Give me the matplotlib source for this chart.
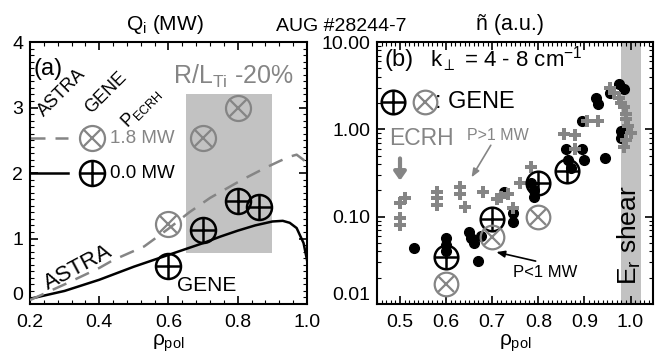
import matplotlib
matplotlib.use('Agg')

import numpy as np
import matplotlib.pyplot as plt
from matplotlib.patches import Rectangle
from matplotlib.ticker import MultipleLocator, FixedLocator, NullFormatter

plt.rcParams['font.family'] = ['Liberation Sans', 'DejaVu Sans']
plt.rcParams['mathtext.fontset'] = 'custom'
plt.rcParams['mathtext.rm'] = 'Liberation Sans'
plt.rcParams['mathtext.it'] = 'Liberation Sans'
plt.rcParams['mathtext.sf'] = 'Liberation Sans'

GRAY = '#858585'
LGRAY = '#c2c2c2'

# ---- panel (a): ion heat flux ----
rho_astra_0 = [0.2, 0.3, 0.4, 0.5, 0.6, 0.65, 0.7, 0.75, 0.8, 0.85, 0.9, 0.93, 0.95, 0.97, 0.99, 1.0]
q_astra_0 = [0.08, 0.2, 0.37, 0.57, 0.75, 0.84, 0.93, 1.03, 1.12, 1.2, 1.26, 1.27, 1.24, 1.16, 0.93, 0.67]
rho_astra_18 = [0.2, 0.3, 0.4, 0.44, 0.53, 0.6, 0.66, 0.72, 0.81, 0.88, 0.92, 0.95, 0.97, 0.99, 1.0]
q_astra_18 = [0.06, 0.3, 0.55, 0.67, 0.88, 1.15, 1.40, 1.62, 1.89, 2.08, 2.18, 2.25, 2.28, 2.2, 2.12]
rho_gene_0 = [0.6, 0.7, 0.8, 0.86]
q_gene_0 = [0.58, 1.13, 1.57, 1.48]
rho_gene_18 = [0.6, 0.7, 0.8]
q_gene_18 = [1.22, 2.53, 3.0]

# ---- panel (b): density fluctuations ----
rho_hi = [0.50, 0.50, 0.50, 0.51, 0.58, 0.58, 0.58, 0.63, 0.63, 0.64, 0.68, 0.71,
          0.72, 0.735, 0.745, 0.76, 0.785, 0.855, 0.88, 0.88, 0.905, 0.93,
          0.955, 0.965, 0.975, 0.98, 0.985, 0.99, 0.99, 0.995, 1.0, 0.99, 0.985]
n_hi = [0.145, 0.097, 0.081, 0.165, 0.19, 0.165, 0.137, 0.22, 0.18, 0.13, 0.19, 0.16,
        0.17, 0.18, 0.125, 0.245, 0.37, 0.88, 0.86, 0.59, 1.23, 1.23,
        2.95, 2.6, 2.3, 2.0, 1.8, 1.5, 1.3, 1.1, 0.9, 0.75, 0.62]
rho_lo = [0.53, 0.6, 0.6, 0.6, 0.65, 0.655, 0.66, 0.67, 0.675, 0.725, 0.745, 0.745,
          0.785, 0.79, 0.79, 0.86, 0.865, 0.87, 0.895, 0.9, 0.945,
          0.895, 0.925, 0.93, 0.955, 0.975, 0.985, 0.98, 0.98]
n_lo = [0.044, 0.057, 0.048, 0.04, 0.066, 0.057, 0.05, 0.031, 0.06, 0.19, 0.11, 0.088,
        0.245, 0.2, 0.17, 0.59, 0.45, 0.36, 0.59, 0.45, 0.47,
        1.24, 2.27, 1.95, 2.6, 3.3, 2.9, 0.95, 0.8]
rho_gb_0 = [0.6, 0.7, 0.8, 0.862]
n_gb_0 = [0.035, 0.095, 0.245, 0.33]
rho_gb_18 = [0.6, 0.7, 0.8]
n_gb_18 = [0.017, 0.058, 0.1]


def oplus(ax, x, y, ms, color, lw):
    ax.plot(x, y, 'o', ms=ms, mfc='none', mec=color, mew=lw, ls='none', zorder=5)
    ax.plot(x, y, '+', ms=ms, mec=color, mew=lw, ls='none', zorder=5)


def otimes(ax, x, y, ms, color, lw):
    ax.plot(x, y, 'o', ms=ms, mfc='none', mec=color, mew=lw, ls='none', zorder=5)
    ax.plot(x, y, 'x', ms=ms * 0.707, mec=color, mew=lw, ls='none', zorder=5)


def style_ticks(ax):
    ax.tick_params(which='both', direction='in', top=True, right=True, labelsize=14)
    ax.tick_params(which='major', length=6, width=1.2)
    ax.tick_params(which='minor', length=3, width=0.8)
    ax.tick_params(axis='x', which='major', pad=7)
    ax.tick_params(axis='y', which='major', pad=5)
    for s in ax.spines.values():
        s.set_linewidth(1.5)


fig = plt.figure(figsize=(6.66, 3.56), dpi=100)
axa = fig.add_axes([0.045, 0.146, 0.416, 0.736])
axb = fig.add_axes([0.566, 0.146, 0.414, 0.736])

# panel (a)
axa.add_patch(Rectangle((0.65, 0.78), 0.25, 2.42, color=LGRAY, lw=0, zorder=0))
axa.plot(rho_astra_0, q_astra_0, '-', color='k', lw=1.8, zorder=3)
axa.plot(rho_astra_18, q_astra_18, '--', color=GRAY, lw=1.8, dashes=(6, 4), zorder=3)
oplus(axa, rho_gene_0, q_gene_0, 18, 'k', 1.8)
otimes(axa, rho_gene_18, q_gene_18, 18, GRAY, 1.6)

# legend drawn by hand
axa.plot([0.2, 0.31], [2.53, 2.53], '--', color=GRAY, lw=1.8, dashes=(6, 4), clip_on=False)
axa.plot([0.2, 0.31], [2.0, 2.0], '-', color='k', lw=1.8, clip_on=False)
otimes(axa, [0.38], [2.53], 18, GRAY, 1.6)
oplus(axa, [0.38], [2.0], 18, 'k', 1.8)
axa.text(0.432, 2.53, '1.8 MW', color=GRAY, fontsize=13.5, va='center')
axa.text(0.432, 2.0, '0.0 MW', color='k', fontsize=13.5, va='center')
axa.text(0.292, 3.22, 'ASTRA', rotation=45, fontsize=13, ha='center', va='center')
axa.text(0.42, 3.22, 'GENE', rotation=45, fontsize=13, ha='center', va='center')
axa.text(0.52, 3.0, r'P$_{\rm ECRH}$', rotation=45, fontsize=13, ha='center', va='center')
axa.text(0.21, 3.59, '(a)', fontsize=17, va='center')
axa.text(0.613, 3.47, r'R/L$_{\rm Ti}$ -20%', color=GRAY, fontsize=18, va='center')
axa.text(0.339, 0.55, 'ASTRA', rotation=28, fontsize=16, ha='center', va='center')
axa.text(0.625, 0.29, 'GENE', fontsize=15, va='center')

axa.set_xlim(0.2, 1.0)
axa.set_ylim(0, 4)
axa.xaxis.set_minor_locator(MultipleLocator(0.04))
axa.yaxis.set_major_locator(MultipleLocator(1))
axa.yaxis.set_minor_locator(MultipleLocator(0.1))
axa.set_xticks([0.2, 0.4, 0.6, 0.8, 1.0])
axa.set_xticklabels(['0.2', '0.4', '0.6', '0.8', '1.0'])
axa.set_yticks([0, 1, 2, 3, 4])
axa.set_yticklabels(['0', '1', '2', '3', '4'])
axa.get_yticklabels()[0].set_va('bottom')
style_ticks(axa)
axa.set_xlabel(r'$\rho_{\rm pol}$', fontsize=15, labelpad=1)

# panel (b)
axb.axvspan(0.98, 1.022, color=LGRAY, lw=0, zorder=0)
axb.plot(rho_lo, n_lo, 'o', ms=7, color='k', ls='none', zorder=3)
axb.plot(rho_hi, n_hi, 'P', ms=8, color=GRAY, mew=0, ls='none', zorder=4)
oplus(axb, rho_gb_0, n_gb_0, 17, 'k', 1.8)
otimes(axb, rho_gb_18, n_gb_18, 17, GRAY, 1.6)

axb.set_yscale('log')
axb.set_xlim(0.45, 1.048)
axb.set_ylim(0.01, 10)
axb.xaxis.set_major_locator(MultipleLocator(0.1))
axb.xaxis.set_minor_locator(MultipleLocator(0.01))
axb.yaxis.set_major_locator(FixedLocator([0.01, 0.1, 1, 10]))
axb.set_yticklabels(['0.01', '0.10', '1.00', '10.00'])
axb.get_yticklabels()[0].set_va('bottom')
axb.yaxis.set_minor_formatter(NullFormatter())
style_ticks(axb)
axb.set_xlabel(r'$\rho_{\rm pol}$', fontsize=15, labelpad=1)

axb.text(0.466, 6.3, '(b)', fontsize=17, va='center')
axb.text(0.565, 6.3, r'k$_\perp$ = 4 - 8 cm$^{-1}$', fontsize=16, va='center')
oplus(axb, [0.485], [2.07], 17, 'k', 1.8)
otimes(axb, [0.554], [2.07], 17, GRAY, 1.6)
axb.text(0.576, 2.07, ': GENE', fontsize=17, va='center')
axb.text(0.476, 0.78, 'ECRH', color=GRAY, fontsize=16.5, va='center')
axb.annotate('', xy=(0.5, 0.24), xytext=(0.5, 0.5),
             arrowprops=dict(arrowstyle='-|>,head_length=0.5,head_width=0.35',
                             color=GRAY, lw=3))
axb.text(0.645, 0.85, 'P>1 MW', color=GRAY, fontsize=11.5, va='center')
axb.annotate('', xy=(0.652, 0.265), xytext=(0.70, 0.70),
             arrowprops=dict(arrowstyle='-|>,head_length=0.5,head_width=0.2',
                             color=GRAY, lw=1.2))
axb.text(0.745, 0.023, 'P<1 MW', color='k', fontsize=12, va='center')
axb.annotate('', xy=(0.703, 0.04), xytext=(0.8, 0.0305),
             arrowprops=dict(arrowstyle='-|>,head_length=0.5,head_width=0.2',
                             color='k', lw=1.2))
axb.text(0.997, 0.062, r'E$_{\rm r}$ shear', rotation=90, fontsize=19,
         ha='center', va='center')

fig.text(0.248, 0.93, r'Q$_{\rm i}$ (MW)', fontsize=15, ha='center', va='center')
fig.text(0.513, 0.926, 'AUG #28244-7', fontsize=14, ha='center', va='center')
fig.text(0.766, 0.93, 'ñ (a.u.)', fontsize=15.5, ha='center', va='center')

fig.savefig('out.png', dpi=100)
